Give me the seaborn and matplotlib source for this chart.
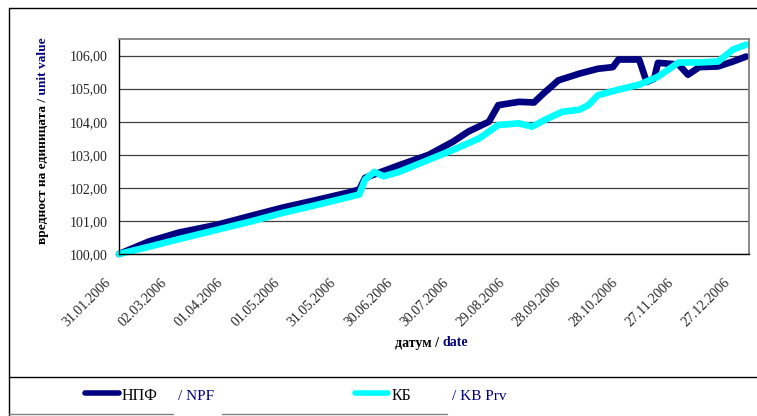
import matplotlib

matplotlib.use("Agg")

import matplotlib.dates as mdates
import matplotlib.pyplot as plt
import pandas as pd
import seaborn as sns
from matplotlib.lines import Line2D
from matplotlib.ticker import FuncFormatter
from matplotlib.transforms import ScaledTranslation

W, H = 757, 416

# values
NPF_DATES = [
    "31.01.2006", "16.02.2006", "04.03.2006", "24.03.2006", "11.04.2006", "28.04.2006",
    "16.05.2006", "03.06.2006", "08.06.2006", "11.06.2006", "29.06.2006", "15.07.2006",
    "28.07.2006", "05.08.2006", "16.08.2006", "21.08.2006", "01.09.2006", "09.09.2006",
    "14.09.2006", "22.09.2006", "03.10.2006", "13.10.2006", "21.10.2006", "24.10.2006",
    "04.11.2006", "08.11.2006", "12.11.2006", "14.11.2006", "25.11.2006", "30.11.2006",
    "06.12.2006", "16.12.2006", "24.12.2006", "31.12.2006",
]
NPF_VALUES = [
    100.00, 100.38, 100.65, 100.88, 101.15, 101.40,
    101.63, 101.87, 101.95, 102.30, 102.68, 103.00,
    103.40, 103.70, 104.00, 104.50, 104.60, 104.58,
    104.85, 105.25, 105.45, 105.60, 105.65, 105.88,
    105.88, 105.20, 105.30, 105.78, 105.73, 105.42,
    105.65, 105.67, 105.82, 105.97,
]

KB_DATES = [
    "31.01.2006", "16.02.2006", "04.03.2006", "24.03.2006", "11.04.2006", "28.04.2006",
    "16.05.2006", "03.06.2006", "08.06.2006", "11.06.2006", "16.06.2006", "21.06.2006",
    "29.06.2006", "15.07.2006", "28.07.2006", "11.08.2006", "21.08.2006", "01.09.2006",
    "08.09.2006", "15.09.2006", "24.09.2006", "03.10.2006", "08.10.2006", "13.10.2006",
    "24.10.2006", "04.11.2006", "14.11.2006", "25.11.2006", "06.12.2006", "16.12.2006",
    "24.12.2006", "31.12.2006",
]
KB_VALUES = [
    100.00, 100.22, 100.45, 100.73, 100.98, 101.24,
    101.48, 101.73, 101.80, 102.25, 102.48, 102.35,
    102.48, 102.85, 103.15, 103.50, 103.90, 103.95,
    103.85, 104.06, 104.30, 104.36, 104.50, 104.80,
    104.97, 105.12, 105.36, 105.79, 105.79, 105.82,
    106.18, 106.33,
]

TICK_LABELS = [
    "31.01.2006", "02.03.2006", "01.04.2006", "01.05.2006", "31.05.2006", "30.06.2006",
    "30.07.2006", "29.08.2006", "28.09.2006", "28.10.2006", "27.11.2006", "27.12.2006",
]
Y_TICKS = [100, 101, 102, 103, 104, 105, 106]

NAVY = "#000080"
CYAN = "#00FFFF"
TEXT_BLUE = "#000080"


def px(x, y):
    return x / W, 1 - y / H


def fig_line(fig, x0, y0, x1, y1, **kw):
    a = px(x0, y0)
    b = px(x1, y1)
    fig.add_artist(Line2D([a[0], b[0]], [a[1], b[1]], transform=fig.transFigure, **kw))


def colored_text(fig, x, y, parts, rotation=0, **kw):
    renderer = fig.canvas.get_renderer()
    for text, color in parts:
        fx, fy = px(x, y)
        if rotation == 90:
            t = fig.text(fx, fy, text, color=color, rotation=90, ha="center", va="bottom", **kw)
            y -= t.get_window_extent(renderer).height
        else:
            t = fig.text(fx, fy, text, color=color, ha="left", va="center", **kw)
            x += t.get_window_extent(renderer).width


sns.set_style("white")
plt.rcParams["font.family"] = ["Liberation Serif", "DejaVu Serif"]

npf = pd.DataFrame({"date": pd.to_datetime(NPF_DATES, format="%d.%m.%Y"), "value": NPF_VALUES, "fund": "НПФ"})
kb = pd.DataFrame({"date": pd.to_datetime(KB_DATES, format="%d.%m.%Y"), "value": KB_VALUES, "fund": "КБ"})
data = pd.concat([npf, kb], ignore_index=True)

fig = plt.figure(figsize=(W / 100, H / 100), dpi=100)
ax = fig.add_axes([119 / W, 1 - 254 / H, (749 - 119) / W, (254 - 39) / H])

sns.lineplot(
    data=data,
    x="date",
    y="value",
    hue="fund",
    hue_order=["НПФ", "КБ"],
    palette={"НПФ": NAVY, "КБ": CYAN},
    linewidth=4.8,
    estimator=None,
    sort=False,
    legend=False,
    ax=ax,
)
for line in ax.get_lines():
    line.set_solid_capstyle("round")
    line.set_solid_joinstyle("round")
    line.set_clip_on(False)

ax.set_xlim(pd.Timestamp("2006-01-31"), pd.Timestamp("2007-01-01 12:00"))
ax.set_ylim(100, 106.5)

tick_dates = pd.to_datetime(TICK_LABELS, format="%d.%m.%Y")
ax.set_xticks(tick_dates)
ax.set_xticklabels(TICK_LABELS, rotation=45, ha="right", va="top", rotation_mode="anchor", fontsize=10)
ax.xaxis.set_minor_locator(mdates.WeekdayLocator(byweekday=range(5)))
ax.tick_params(axis="x", which="both", direction="out", length=4, width=0.7, color="black", pad=2)
offset = ScaledTranslation(-15 / 100, -14 / 100, fig.dpi_scale_trans)
for label in ax.get_xticklabels():
    label.set_transform(label.get_transform() + offset)

ax.set_yticks(Y_TICKS)
ax.yaxis.set_major_formatter(FuncFormatter(lambda v, _: f"{v:.2f}".replace(".", ",")))
ax.tick_params(axis="y", direction="out", length=5, width=0.8, color="black", labelsize=10, pad=3)
ax.yaxis.grid(True, color="#404040", linewidth=0.9)
ax.set_axisbelow(True)
ax.set_xlabel("")
ax.set_ylabel("")

for side in ["left", "bottom"]:
    ax.spines[side].set_color("black")
    ax.spines[side].set_linewidth(1.0)
for side in ["top", "right"]:
    ax.spines[side].set_color("#808080")
    ax.spines[side].set_linewidth(1.3)

# chart frame and legend band
fig_line(fig, 9, 8, W, 8, color="black", linewidth=1.0)
fig_line(fig, 9, 8, 9, H, color="black", linewidth=1.0)
fig_line(fig, 9, 377, W, 377, color="black", linewidth=1.0)
fig_line(fig, 9, 414, 173, 414, color="#808080", linewidth=1.0)
fig_line(fig, 222, 414, 447, 414, color="#808080", linewidth=1.0)

# axis titles
colored_text(
    fig, 43, 244,
    [("вредност на единицата /", "black"), (" unit value", TEXT_BLUE)],
    rotation=90, fontsize=9.6, fontweight="bold",
)
colored_text(fig, 395, 343, [("датум / ", "black"), ("date", TEXT_BLUE)], fontsize=10, fontweight="bold")

# legend
fig_line(fig, 85, 393, 119, 393, color=NAVY, linewidth=4.0, solid_capstyle="round")
fig_line(fig, 355, 393, 388, 393, color=CYAN, linewidth=4.0, solid_capstyle="round")
fx, fy = px(122, 396)
fig.text(fx, fy, "НПФ", fontsize=11.5, color="black", ha="left", va="center")
fx, fy = px(178, 397)
fig.text(fx, fy, "/ NPF", fontsize=11, color=TEXT_BLUE, ha="left", va="center")
fx, fy = px(392, 396)
fig.text(fx, fy, "КБ", fontsize=11.5, color="black", ha="left", va="center")
fx, fy = px(452, 397)
fig.text(fx, fy, "/ KB Prv", fontsize=11, color=TEXT_BLUE, ha="left", va="center")

fig.savefig("out.png", dpi=100)
